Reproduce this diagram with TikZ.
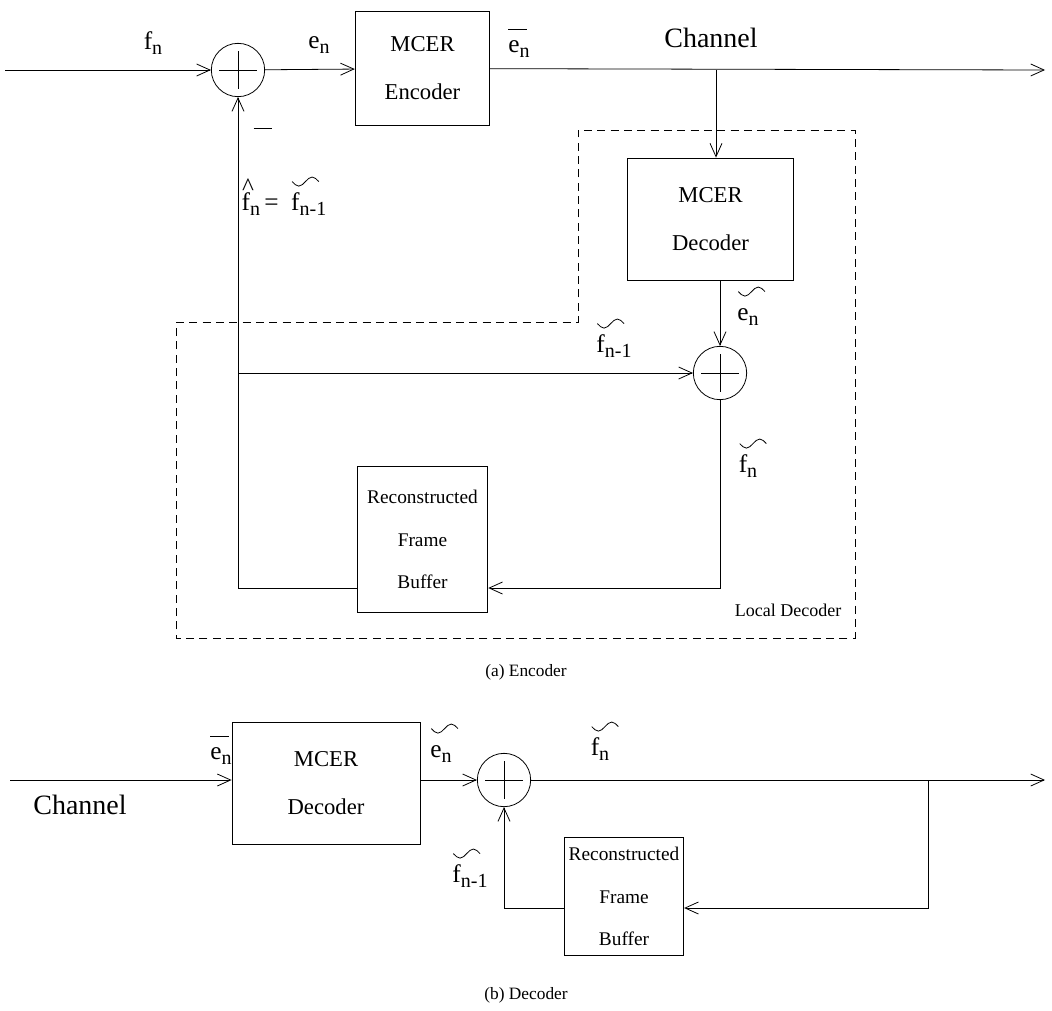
\documentclass[tikz,border=0pt]{standalone}
\usepackage{fontspec}
\setmainfont{Liberation Serif}
\usetikzlibrary{arrows.meta,calc}

\newcommand{\sig}[2]{#1\raisebox{-0.4ex}{\fontsize{15}{15}\selectfont #2}}
\newcommand{\wave}{\tikz[x=1pt,y=1pt,line width=0.6pt,baseline=0pt]
  \draw (0,0) sin (5,-3.4) cos (10,0) sin (15,3.4) cos (20,0);}
\newcommand{\tsig}[2]{\makebox[0pt][l]{\hspace{0.02em}\raisebox{1.15em}{\wave}}\sig{#1}{#2}}
\newcommand{\hsig}[2]{\makebox[0pt][l]{\hspace{0.02em}\raisebox{0.62em}{\textasciicircum}}\sig{#1}{#2}}
\newcommand{\bsig}[2]{\makebox[0pt][l]{\raisebox{0.92em}{\rule{0.75em}{0.6pt}}}\sig{#1}{#2}}

\begin{document}
\begin{tikzpicture}[x=0.75pt,y=-0.75pt,>={Straight Barb[length=10pt,width=9pt]},
  line width=0.6pt,
  blk/.style={draw,align=center,font=\fontsize{17}{36}\selectfont},
  bufblk/.style={draw,align=center,font=\fontsize{14.5}{32}\selectfont},
  sumnode/.style={draw,circle,minimum size=40pt,inner sep=0pt},
  lbl/.style={font=\fontsize{19}{19}\selectfont,inner sep=1pt},
  big/.style={font=\fontsize{21}{21}\selectfont},
  captxt/.style={font=\fontsize{13}{13}\selectfont}]
\useasboundingbox (0,0) rectangle (1052,1010);

% ---- encoder
\node[sumnode] (s1) at (238,70) {};
\node[blk,minimum width=101pt,minimum height=85pt] (enc) at (422.5,68.5) {MCER\\Encoder};
\node[blk,minimum width=124pt,minimum height=91.5pt] (dec) at (710.5,219) {MCER\\Decoder};
\node[sumnode] (s2) at (720,373) {};
\node[bufblk,minimum width=98pt,minimum height=109pt] (buf) at (422.5,539.5) {Reconstructed\\Frame\\Buffer};

\coordinate (in1) at (5,70);
\coordinate (out1) at (1045,70);
\coordinate (br1) at (716,70);
\coordinate (j1) at (238,373);
\coordinate (c1) at (720,588);

\draw[->] (in1) -- (s1);
\draw[->] (s1) -- (enc);
\draw[->] (enc) -- (out1);
\draw[->] (br1) -- (br1 |- dec.north);
\draw[->] (dec.south -| s2) -- (s2);
\draw[->] (j1) -- (s2);
\draw[->] (j1) -- (s1);
\draw[->] (s2) -- (c1) -- (c1 -| buf.east);
\draw (buf.west |- c1) -| (j1);

\draw[dashed,dash pattern=on 6pt off 4pt,line width=0.5pt]
  (176,322) -- (578,322) -- (578,130) -- (855,130) -- (855,638) -- (176,638) -- cycle;

\node[lbl] (lfn) at (153,43) {\sig{f}{n}};
\node[lbl] (len) at (319,45) {\sig{e}{n}};
\node[lbl] (lmin) at (263,131) {\rule[0.5ex]{14pt}{0.6pt}};
\node[lbl,anchor=west] (lhat) at (240,196) {\hsig{f}{n}\,=~~\tsig{f}{n-1}};
\node[lbl] (lbe) at (519,43) {\bsig{e}{n}};
\node[big] (lch) at (711,38) {Channel};
\node[lbl] (lte) at (748,306) {\tsig{e}{n}};
\node[lbl] (ltf1) at (614,338) {\tsig{f}{n-1}};
\node[lbl] (ltf) at (748,458) {\tsig{f}{n}};
\node[font=\fontsize{13.5}{13.5}\selectfont] (lloc) at (788,610) {Local Decoder};
\node[captxt] (capa) at (526,672) {(a) Encoder};

% ---- decoder
\node[blk,minimum width=141pt,minimum height=92pt] (dec2) at (326,783.5) {MCER\\Decoder};
\node[sumnode] (s3) at (504,780) {};
\node[bufblk,minimum width=84pt,minimum height=88pt] (buf2) at (624,896.5) {Reconstructed\\Frame\\Buffer};

\coordinate (in2) at (10,780);
\coordinate (out2) at (1045,780);
\coordinate (br2) at (928,780);
\coordinate (c2) at (928,908);

\draw[->] (in2) -- (in2 -| dec2.west);
\draw[->] (dec2.east |- s3) -- (s3);
\draw[->] (s3) -- (out2);
\draw[->] (br2) -- (c2) -- (c2 -| buf2.east);
\draw[->] (buf2.west |- c2) -| (s3);

\node[lbl] (lbe2) at (221,750) {\bsig{e}{n}};
\node[big] (lch2) at (80,805) {Channel};
\node[lbl] (lte2) at (441,743) {\tsig{e}{n}};
\node[lbl] (ltf2) at (600,741) {\tsig{f}{n}};
\node[lbl] (ltf3) at (470,868) {\tsig{f}{n-1}};
\node[captxt] (capb) at (526,995) {(b) Decoder};

\foreach \s in {s1,s2,s3} {
  \draw ($(\s.west)!.15!(\s.east)$) -- ($(\s.west)!.85!(\s.east)$);
  \draw ($(\s.north)!.15!(\s.south)$) -- ($(\s.north)!.85!(\s.south)$);
}
\end{tikzpicture}
\end{document}
